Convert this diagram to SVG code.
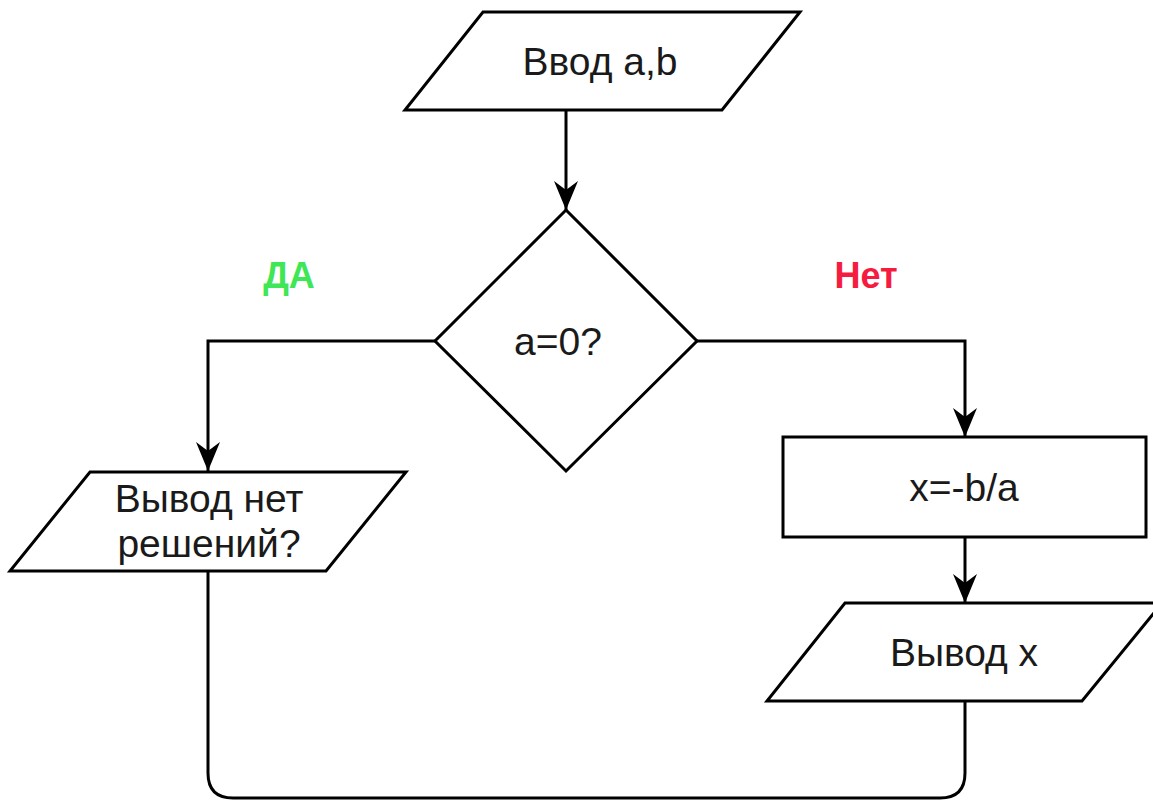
<svg xmlns="http://www.w3.org/2000/svg" width="1153" height="801" viewBox="0 0 1153 801">
<style>
.s{fill:#fff;stroke:#000;stroke-width:3}
.t{font-family:"Liberation Sans",Arial,sans-serif;font-size:39px;fill:#1a1a1a;text-anchor:middle}
.c{fill:none;stroke:#000;stroke-width:3}
.h{fill:#000}
.l{font-family:"Liberation Sans",Arial,sans-serif;font-size:36px;font-weight:bold;text-anchor:middle}
</style>
<rect width="1153" height="801" fill="#fff"/>
<g id="connectors">
<path class="c" d="M566,110 V210"/>
<path class="h" d="M554,181 L566,190 L578,181 L566,210 Z"/>
<path class="c" d="M435,341 H208 V471"/>
<path class="h" d="M196,442 L208,451 L220,442 L208,471 Z"/>
<path class="c" d="M697,341 H965 V437"/>
<path class="h" d="M953,408 L965,417 L977,408 L965,437 Z"/>
<path class="c" d="M965,537 V603"/>
<path class="h" d="M953,574 L965,583 L977,574 L965,603 Z"/>
<path class="c" d="M208,571 V773 Q208,798 233,798 H940 Q965,798 965,773 V701"/>
</g>
<g id="input">
<polygon class="s" points="483,12 800,12 722,110 405,110"/>
<text class="t" x="600" y="75">Ввод a,b</text>
</g>
<g id="decision">
<polygon class="s" points="566,210 697,341 566,471 435,341"/>
<text class="t" x="558" y="355">a=0?</text>
</g>
<g id="label-yes"><text class="l" x="289" y="288" fill="#3fe655">ДА</text></g>
<g id="label-no"><text class="l" x="866" y="288" fill="#f51c40">Нет</text></g>
<g id="no-solution">
<polygon class="s" points="90,472 406,472 326,571 10,571"/>
<text class="t" x="209" y="512">Вывод нет</text>
<text class="t" x="209" y="557">решений?</text>
</g>
<g id="compute">
<rect class="s" x="783" y="437" width="363" height="100"/>
<text class="t" x="964" y="501">x=-b/a</text>
</g>
<g id="output">
<polygon class="s" points="845,603 1162,603 1082,701 767,701"/>
<text class="t" x="964" y="666">Вывод x</text>
</g>
</svg>
